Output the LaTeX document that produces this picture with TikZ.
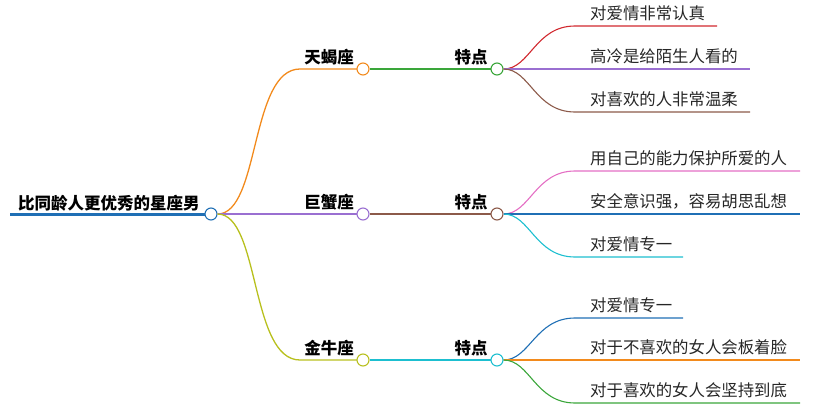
\documentclass[tikz,border=0pt]{standalone}
\usepackage{fontspec}
\setmainfont{Noto Sans CJK SC}
\begin{document}
\begin{tikzpicture}[x=1pt,y=-1pt,
  lbl/.style={inner sep=0pt,anchor=south west,font=\fontsize{16.4}{19}\selectfont,text=black!85},
  blbl/.style={inner sep=0pt,anchor=south,font=\bfseries\fontsize{16.5}{19}\selectfont},
  dot/.style={circle,draw=#1,fill=white,line width=1.1pt,minimum size=12pt,inner sep=0pt},
  ln/.style={line width=1.3pt}]
\useasboundingbox (0,0) rectangle (820,413);
\definecolor{cblue}{HTML}{1F6FB5}
\definecolor{corange}{HTML}{F28A1C}
\definecolor{cpurple}{HTML}{9A6FD1}
\definecolor{colive}{HTML}{B8C01E}
\definecolor{cgreen}{HTML}{3AA63A}
\definecolor{cbrown}{HTML}{8C5A4A}
\definecolor{ccyan}{HTML}{1DBFD0}
\definecolor{cred}{HTML}{D1282E}
\definecolor{cpink}{HTML}{E46FC4}
% root
\draw[cblue,line width=3pt] (10,214) -- (205,214);
\node[blbl,anchor=south west] (root) at (18,211) {比同龄人更优秀的星座男};
\node[dot=cblue] (rc) at (211,214) {};
% branches
\foreach \y/\t/\c/\d/\n in {69/天蝎座/corange/cgreen/a,214/巨蟹座/cpurple/cbrown/b,360/金牛座/colive/ccyan/c}{
  \draw[ln,\c] (rc.east) .. controls (260,214) and (250,\y) .. (300,\y) -- (357,\y);
  \node[blbl] (t\n) at (329,\y-4) {\t};
  \node[dot=\c] (m\n) at (363,\y) {};
  \draw[ln,\d] (m\n.east) -- (491,\y);
  \node[blbl] (f\n) at (471,\y-4) {特点};
  \node[dot=\d] (p\n) at (497,\y) {};
}
% leaves
\foreach \n/\y/\dy/\e/\c/\t in {
 a/69/-43/717/cred/对爱情非常认真,
 a/69/0/750/cpurple/高冷是给陌生人看的,
 a/69/43/750/cbrown/对喜欢的人非常温柔,
 b/214/-43/800/cpink/用自己的能力保护所爱的人,
 b/214/0/800/cblue/安全意识强，容易胡思乱想,
 b/214/43/683/ccyan/对爱情专一,
 c/360/-42/683/cblue/对爱情专一,
 c/360/0/800/corange/对于不喜欢的女人会板着脸,
 c/360/43/800/cgreen/对于喜欢的女人会坚持到底}{
  \draw[line width=1.1pt,\c] (p\n.east) .. controls (530,\y) and (535,\y+\dy) .. (575,\y+\dy) -- (\e,\y+\dy);
  \node[lbl] at (590,\y+\dy-5) {\t};
}
\end{tikzpicture}
\end{document}
